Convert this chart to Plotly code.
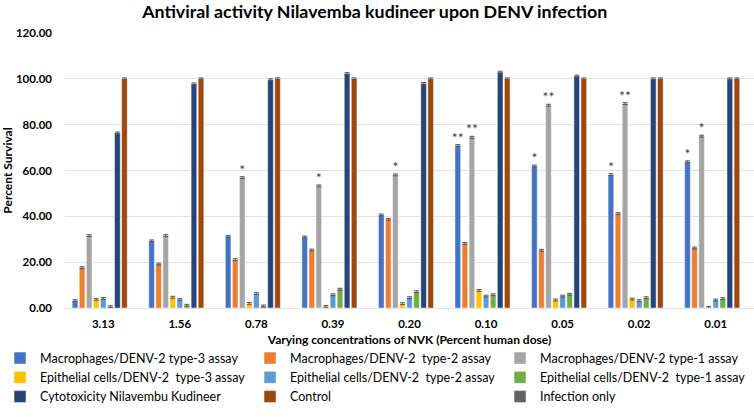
import plotly.graph_objects as go

categories = ["3.13", "1.56", "0.78", "0.39", "0.20", "0.10", "0.05", "0.02", "0.01"]

series_names = [
    "Macrophages/DENV-2 type-3 assay",
    "Macrophages/DENV-2  type-2 assay",
    "Macrophages/DENV-2 type-1 assay",
    "Epithelial cells/DENV-2  type-3 assay",
    "Epithelial cells/DENV-2  type-2 assay",
    "Epithelial cells/DENV-2  type-1 assay",
    "Cytotoxicity Nilavembu Kudineer",
    "Control",
    "Infection only",
]

mac_t3 = [3.2, 29.3, 31.3, 31.0, 40.6, 70.9, 62.0, 58.2, 63.8]
mac_t2 = [17.6, 19.2, 21.1, 25.3, 38.7, 28.2, 25.2, 41.2, 26.2]
mac_t1 = [31.6, 31.6, 56.9, 53.3, 58.1, 74.5, 88.5, 89.2, 75.0]
epi_t3 = [3.8, 4.7, 2.0, 0.7, 1.9, 7.7, 3.5, 3.9, 0.3]
epi_t2 = [4.2, 3.8, 6.3, 5.8, 4.5, 5.2, 5.2, 3.2, 3.5]
epi_t1 = [0.6, 1.2, 0.9, 8.2, 7.1, 5.8, 6.0, 4.5, 4.1]
cytotox = [76.4, 97.8, 99.6, 102.3, 98.0, 102.9, 101.2, 100.0, 100.0]
control = [100, 100, 100, 100, 100, 100, 100, 100, 100]
infection_only = [0, 0, 0, 0, 0, 0, 0, 0, 0]

mac_t3_sig = ["", "", "", "", "", "**", "*", "*", "*"]
mac_t1_sig = ["", "", "*", "*", "*", "**", "**", "**", "*"]

colors = ["#4472C4", "#ED7D31", "#A5A5A5", "#FFC000", "#5B9BD5",
          "#70AD47", "#264478", "#9E480E", "#636363"]

values = [mac_t3, mac_t2, mac_t1, epi_t3, epi_t2, epi_t1, cytotox, control, infection_only]
sig = {0: mac_t3_sig, 2: mac_t1_sig}

FONT = "Lato"

fig = go.Figure()
for i, (name, vals) in enumerate(zip(series_names, values)):
    kw = {}
    if i in sig:
        kw = dict(text=sig[i], textposition="outside", constraintext="none",
                  cliponaxis=False,
                  outsidetextfont=dict(family=FONT, size=14, color="#404040"))
    fig.add_trace(go.Bar(
        x=categories, y=vals, name=name,
        marker=dict(color=colors[i], line=dict(color="rgba(255,255,255,0.8)", width=0.6)),
        error_y=dict(type="constant", value=0.4, color="#595959", thickness=1, width=2.5,
                     visible=(i != 8)),
        hoverinfo="x+y+name",
        **kw,
    ))

fig.update_layout(
    width=754, height=417,
    barmode="group", bargap=0.17, bargroupgap=0.2,
    plot_bgcolor="white", paper_bgcolor="white",
    margin=dict(l=65, r=0, t=33, b=109),
    font=dict(family=FONT, color="#000000"),
    title=dict(text="<b>Antiviral activity Nilavemba kudineer upon DENV infection</b>",
               x=0.497, xanchor="center", y=0.9706, yanchor="middle", yref="container",
               automargin=False,
               font=dict(family=FONT, size=17.8, color="#000000")),
    yaxis=dict(range=[0, 120], dtick=20, tickformat=".2f", automargin=False,
               gridcolor="#E3E3E3", gridwidth=1, zeroline=False,
               showline=False, ticks="", ticklabelstandoff=12,
               tickfont=dict(family=FONT, size=11.5, color="#000000", weight="bold"),
               title=dict(text="<b>Percent Survival</b>", standoff=8,
                          font=dict(family=FONT, size=12, color="#000000"))),
    xaxis=dict(type="category", showline=True, linecolor="#E3E3E3", linewidth=1,
               ticks="", showgrid=False, automargin=False, ticklabelstandoff=5,
               tickfont=dict(family=FONT, size=11.5, color="#000000", weight="bold"),
               title=dict(text="<b>Varying concentrations of NVK (Percent human dose)</b>",
                          standoff=6,
                          font=dict(family=FONT, size=12, color="#000000"))),
    legend=dict(orientation="h", x=-0.0943, xanchor="left", y=-0.129, yanchor="top",
                entrywidth=205, entrywidthmode="pixels", traceorder="normal",
                font=dict(family=FONT, size=12.5, color="#000000"),
                itemclick=False, bgcolor="rgba(0,0,0,0)"),
    showlegend=True,
)

fig.write_html("out.html",
               config={"displayModeBar": False},
               post_script="document.body.style.margin='0px';document.body.style.overflow='hidden';")
